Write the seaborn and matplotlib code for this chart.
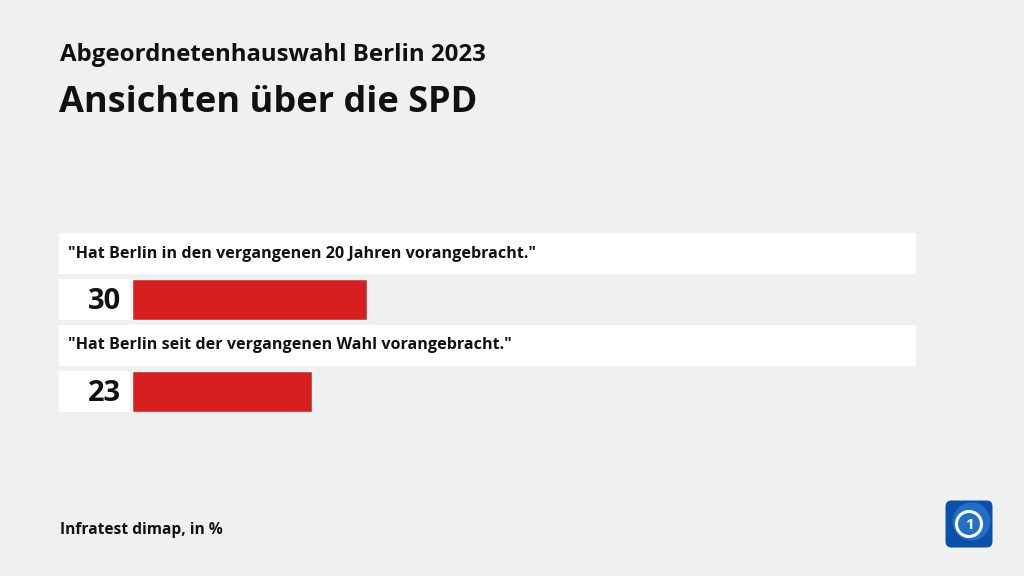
import matplotlib
matplotlib.use("Agg")
import matplotlib.pyplot as plt
import seaborn as sns
import pandas as pd
from matplotlib.patches import Rectangle, FancyBboxPatch, Circle

# ---- data ----
categories = ['"Hat Berlin in den vergangenen 20 Jahren vorangebracht."',
              '"Hat Berlin seit der vergangenen Wahl vorangebracht."']
values = [30, 23]
title = "Ansichten über die SPD"
subtitle = "Abgeordnetenhauswahl Berlin 2023"
source = "Infratest dimap, in %"

BG = "#f0f0f0"
RED = "#d81f1f"
W, H = 1024, 576

sns.set_theme(style="white")
plt.rcParams['font.family'] = ['Open Sans', 'DejaVu Sans']

fig = plt.figure(figsize=(W / 100, H / 100), dpi=100, facecolor=BG)

def fx(px):
    return px / W

def fy(py):
    return 1 - py / H

# axes: x 0..100 maps to px 132..915; y spans px 233..412
ax = fig.add_axes([fx(132), fy(412), fx(915) - fx(132), (412 - 233) / H])
ax.set_facecolor("none")

df = pd.DataFrame({"cat": categories, "val": values})
sns.barplot(data=df, x="val", y="cat", orient="h", color=RED, width=0.446,
            saturation=1, ax=ax, zorder=3)
ax.set_xlim(0, 100)
ax.set_ylim(1.223, -0.723)
ax.axis("off")

ppu = 783 / 100  # px per x unit
left_u = (59 - 132) / ppu
right_u = (916 - 132) / ppu
gap_u = (129.5 - 132) / ppu
bh = 0.446

for i, (c, v) in enumerate(zip(categories, values)):
    # label box
    ax.add_patch(Rectangle((left_u, i - 0.5 - bh / 2), right_u - left_u, bh,
                           facecolor="white", edgecolor="none", clip_on=False, zorder=1))
    ax.text(left_u + 9 / ppu, i - 0.5, c, ha="left", va="center", fontsize=11.6,
            fontweight="bold", color="#111111", clip_on=False, zorder=4)
    # value box
    ax.add_patch(Rectangle((left_u, i - bh / 2), gap_u - left_u, bh,
                           facecolor="white", edgecolor="none", clip_on=False, zorder=1))
    ax.text(gap_u - 8 / ppu, i + 0.02, f"{v}", ha="right", va="center", fontsize=21,
            fontweight="bold", color="#111111", clip_on=False, zorder=4)

fig.text(fx(60), fy(61), subtitle, ha="left", va="baseline", fontsize=17.3,
         fontweight="bold", color="#111111")
fig.text(fx(59), fy(112), title, ha="left", va="baseline", fontsize=26,
         fontweight="bold", color="#111111")
fig.text(fx(60), fy(534), source, ha="left", va="baseline", fontsize=11.2,
         fontweight="bold", color="#111111")

# logo
lax = fig.add_axes([fx(944), fy(549), fx(994) - fx(944), (549 - 499) / H])
lax.set_xlim(0, 1)
lax.set_ylim(0, 1)
lax.axis("off")
lax.add_patch(FancyBboxPatch((0.03, 0.03), 0.94, 0.94, boxstyle="round,pad=0,rounding_size=0.12",
                             facecolor="#0a4fa8", edgecolor="none"))
lax.add_patch(Circle((0.55, 0.55), 0.38, facecolor="#2a78d0", edgecolor="none", alpha=0.8))
lax.add_patch(Circle((0.5, 0.5), 0.25, facecolor="none", edgecolor="white", linewidth=2.2))
lax.text(0.5, 0.48, "1", ha="center", va="center", color="white", fontsize=11, fontweight="bold")

fig.savefig("out.png", dpi=100, facecolor=BG)
